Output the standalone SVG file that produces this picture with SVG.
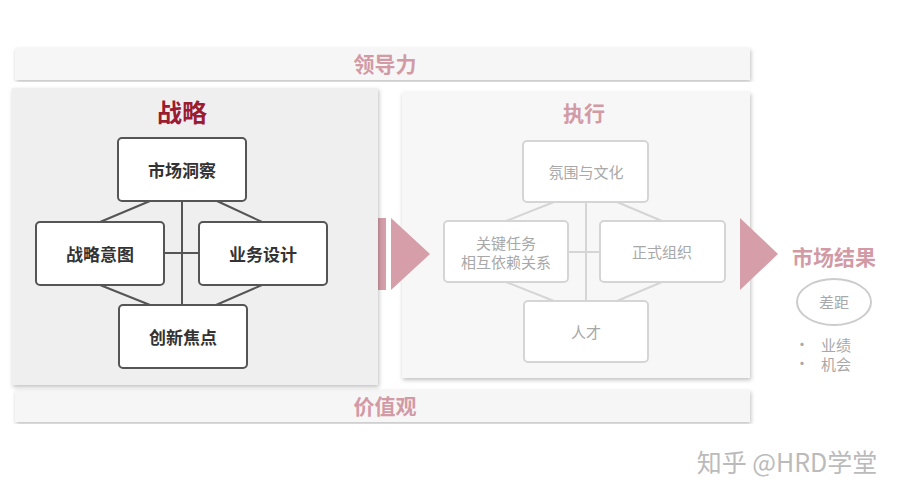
<svg xmlns="http://www.w3.org/2000/svg" width="909" height="500" viewBox="0 0 909 500">
<defs>
<filter id="sh" x="-5%" y="-5%" width="110%" height="110%"><feDropShadow dx="1" dy="2" stdDeviation="2" flood-color="#000" flood-opacity="0.25"/></filter>
</defs>
<style>
text{font-family:"Noto Sans CJK SC","Liberation Sans",sans-serif;text-anchor:middle;dominant-baseline:central}
.bar{fill:#f6f6f6;filter:url(#sh)}
.pink{fill:#d29aa5;font-weight:bold;font-size:21px}
.sb{fill:#fff;stroke:#555;stroke-width:2}
.st{fill:#333;font-size:17px;font-weight:bold}
.eb{fill:#fff;stroke:#d5d5d5;stroke-width:2}
.et{fill:#a8a8a8;font-size:15px}
.sl{stroke:#555;stroke-width:2;fill:none}
.el{stroke:#d5d5d5;stroke-width:2;fill:none}
.arr{fill:#d59ea8}
</style>
<rect width="909" height="500" fill="#fff"/>
<g id="leadership"><rect class="bar" x="15" y="48" width="735" height="32"/><text class="pink" x="385" y="63">领导力</text></g>
<g id="values"><rect class="bar" x="15" y="390" width="735" height="32"/><text class="pink" x="385" y="405">价值观</text></g>
<g id="execution-panel"><rect x="402" y="92" width="348" height="286" fill="#f7f7f7" filter="url(#sh)"/><text class="pink" x="584" y="112">执行</text></g>
<g id="arrow1"><rect x="378" y="218" width="8" height="72" class="arr"/><polygon points="391,218 430,254 391,290" class="arr"/></g>
<g id="strategy-panel"><rect x="12" y="88" width="366" height="297" fill="#efefef" filter="url(#sh)"/><text x="182" y="111" fill="#9b1b30" font-size="25" font-weight="bold">战略</text></g>
<g id="connectors">
<path class="sl" d="M182,201V305M164,253H199M150,201L100,222M217,201L262,222M100,285L150,305M262,285L216,305"/>
<path class="el" d="M586,202V301M568,252H600M554,202L506,221M617,202L662,221M506,282L554,301M662,282L617,301"/>
</g>
<g id="n-market"><rect class="sb" x="118" y="138" width="128" height="63" rx="4"/><text class="st" x="182" y="169">市场洞察</text></g>
<g id="n-intent"><rect class="sb" x="36" y="222" width="128" height="63" rx="4"/><text class="st" x="100" y="253">战略意图</text></g>
<g id="n-design"><rect class="sb" x="199" y="222" width="128" height="63" rx="4"/><text class="st" x="263" y="253">业务设计</text></g>
<g id="n-focus"><rect class="sb" x="119" y="305" width="128" height="63" rx="4"/><text class="st" x="183" y="336">创新焦点</text></g>
<g id="n-culture"><rect class="eb" x="523" y="141" width="125" height="61" rx="4"/><text class="et" x="586" y="171">氛围与文化</text></g>
<g id="n-tasks"><rect class="eb" x="444" y="221" width="124" height="61" rx="4"/><text class="et" x="506" y="242">关键任务</text><text class="et" x="506" y="261">相互依赖关系</text></g>
<g id="n-org"><rect class="eb" x="600" y="221" width="125" height="61" rx="4"/><text class="et" x="662" y="251">正式组织</text></g>
<g id="n-talent"><rect class="eb" x="524" y="301" width="124" height="61" rx="4"/><text class="et" x="586" y="331">人才</text></g>
<g id="arrow2"><polygon points="740,218 778,254 740,290" class="arr"/></g>
<g id="result"><text class="pink" x="834" y="256" font-size="23">市场结果</text>
<ellipse cx="834" cy="302" rx="37" ry="23" fill="#fff" stroke="#ccc" stroke-width="2"/><text class="et" x="834" y="301" font-size="16">差距</text>
<text class="et" x="802" y="343">•</text><text class="et" x="836" y="344">业绩</text>
<text class="et" x="802" y="362">•</text><text class="et" x="836" y="363">机会</text></g>
<text x="787" y="461" fill="#bbb" font-size="25">知乎 @HRD学堂</text>
</svg>
